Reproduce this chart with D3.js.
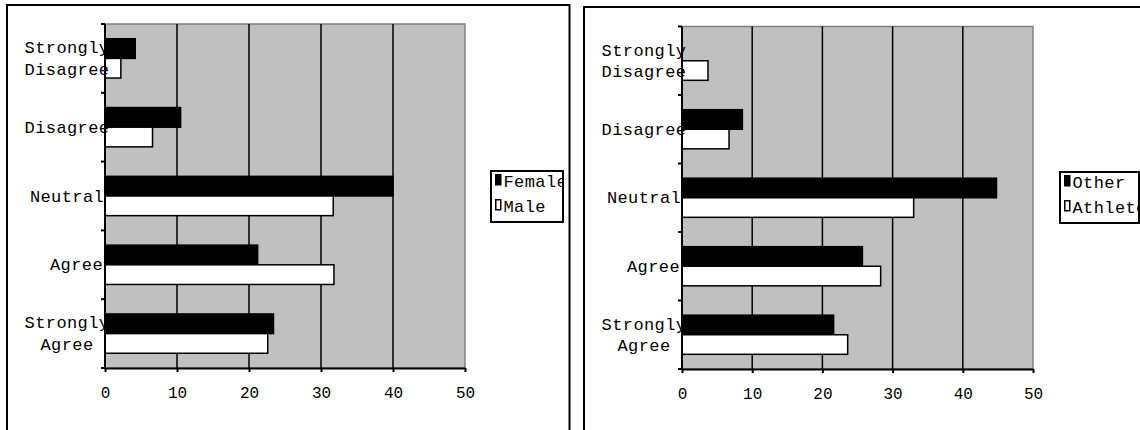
<!DOCTYPE html>
<html>
<head>
<meta charset="utf-8">
<script src="https://cdn.jsdelivr.net/npm/d3@7"></script>
<style>
  body { margin: 0; background: #fff; }
  svg { display: block; }
  text { font-family: "Liberation Mono", "DejaVu Sans Mono", monospace; fill: #000; }
</style>
</head>
<body>
<svg id="chart" width="1140" height="430"></svg>
<script>
// Response categories, top to bottom
const categories = ['Strongly Disagree', 'Disagree', 'Neutral', 'Agree', 'Strongly Agree'];
const categoryLines = [['Strongly', 'Disagree'], ['Disagree'], ['Neutral'], ['Agree'], ['Strongly', 'Agree']];

// Left chart: by gender (percent)
const genderSeries = ['Female', 'Male'];
const femaleValues = [4.2, 10.5, 40.0, 21.2, 23.4];
const maleValues = [2.2, 6.6, 31.7, 31.8, 22.6];

// Right chart: athletes vs others (percent)
const groupSeries = ['Other', 'Athlete'];
const otherValues = [0, 8.6, 44.8, 25.7, 21.6];
const athleteValues = [3.7, 6.7, 33.0, 28.3, 23.6];

const xTicks = [0, 10, 20, 30, 40, 50];
const seriesFill = ['#000', '#fff'];

const svg = d3.select('#chart');

function drawPanel(p, seriesNames, values, id) {
    // frame of the chart object
    svg.append('rect')
        .attr('x', p.frame[0]).attr('y', p.frame[1])
        .attr('width', p.frame[2]).attr('height', p.frame[3])
        .attr('fill', '#fff').attr('stroke', '#000').attr('stroke-width', 2);

    const x = d3.scaleLinear().domain([0, 50]).range([p.left, p.right]);
    const y = d3.scaleBand().domain(categories).range([p.top, p.bottom])
        .paddingInner(1.5 / 3.5).paddingOuter(0.75 / 3.5);
    const ys = d3.scaleBand().domain(seriesNames).range([0, y.bandwidth()]);

    const g = svg.append('g');

    // plot area
    g.append('rect')
        .attr('x', p.left).attr('y', p.top)
        .attr('width', p.right - p.left).attr('height', p.bottom - p.top)
        .attr('fill', '#c0c0c0').attr('stroke', '#808080').attr('stroke-width', 1.5);

    // gridlines
    g.append('g').selectAll('line')
        .data(xTicks.slice(1, -1))
        .join('line')
        .attr('x1', d => x(d)).attr('x2', d => x(d))
        .attr('y1', p.top).attr('y2', p.bottom)
        .attr('stroke', '#000').attr('stroke-width', 1.5);

    // bars
    const rows = categories.map((c, i) => ({ c, vals: seriesNames.map((s, j) => ({ s, j, v: values[j][i] })) }));
    g.append('g').selectAll('g')
        .data(rows)
        .join('g')
        .attr('transform', d => 'translate(0,' + y(d.c) + ')')
        .selectAll('rect')
        .data(d => d.vals.filter(e => e.v > 0))
        .join('rect')
        .attr('x', x(0))
        .attr('y', d => ys(d.s))
        .attr('width', d => x(d.v) - x(0))
        .attr('height', ys.bandwidth())
        .attr('fill', d => seriesFill[d.j])
        .attr('stroke', '#000').attr('stroke-width', 1.5);

    // x axis
    const xa = g.append('g')
        .attr('transform', 'translate(0,' + p.bottom + ')')
        .call(d3.axisBottom(x).tickValues(xTicks).tickSizeInner(4).tickSizeOuter(0).tickPadding(15));
    xa.select('.domain').attr('stroke', '#000').attr('stroke-width', 2);
    xa.selectAll('.tick line').attr('stroke', '#000').attr('stroke-width', 2);
    xa.selectAll('.tick text').attr('font-size', 16).attr('font-family', '"Liberation Mono", monospace');

    // y axis line and ticks on category boundaries
    g.append('line')
        .attr('x1', p.left).attr('x2', p.left)
        .attr('y1', p.top).attr('y2', p.bottom)
        .attr('stroke', '#000').attr('stroke-width', 2);
    g.append('g').selectAll('line')
        .data(d3.range(categories.length + 1))
        .join('line')
        .attr('x1', p.left - 4).attr('x2', p.left)
        .attr('y1', i => p.top + i * y.step()).attr('y2', i => p.top + i * y.step())
        .attr('stroke', '#000').attr('stroke-width', 2);

    // category labels, lines centred in a block hugging the axis
    const charW = 10.6, lineH = 21.5;
    const lab = svg.append('g').attr('font-size', 17).attr('letter-spacing', 0.4);
    categories.forEach((c, i) => {
        const lines = categoryLines[i];
        const w = d3.max(lines, l => l.length) * charW;
        const cx = Math.max(p.left - 38, p.left - 2 - w / 2);
        const cy = y(c) + y.bandwidth() / 2;
        const t = lab.append('text').attr('text-anchor', 'middle');
        lines.forEach((l, k) => {
            t.append('tspan')
                .attr('x', cx)
                .attr('y', cy + 5.5 - (lines.length - 1) * lineH / 2 + k * lineH)
                .text(l);
        });
    });

    // legend (names are clipped by the box, as in the original)
    const L = p.legend;
    svg.append('clipPath').attr('id', 'clip' + id)
        .append('rect').attr('x', L.x).attr('y', L.y).attr('width', L.w).attr('height', L.h);
    const lg = svg.append('g');
    lg.append('rect')
        .attr('x', L.x).attr('y', L.y).attr('width', L.w).attr('height', L.h)
        .attr('fill', '#fff').attr('stroke', '#000').attr('stroke-width', 2);
    const items = lg.append('g').attr('clip-path', 'url(#clip' + id + ')')
        .selectAll('g')
        .data(seriesNames)
        .join('g')
        .attr('transform', (d, j) => 'translate(' + (L.x + 4) + ',' + (L.y + 3 + j * 25) + ')');
    items.append('rect')
        .attr('x', 0.75).attr('y', 0.75).attr('width', 5).attr('height', 10)
        .attr('fill', (d, j) => seriesFill[j]).attr('stroke', '#000').attr('stroke-width', 1.5);
    items.append('text')
        .attr('x', 8.5).attr('y', 12.5)
        .attr('font-size', 17).attr('letter-spacing', 0.4)
        .text(d => d);
}

drawPanel({
    frame: [7, 5, 562.5, 440],
    left: 105, right: 465, top: 24, bottom: 368,
    legend: { x: 491, y: 171, w: 72, h: 51 }
}, genderSeries, [femaleValues, maleValues], 'L');

drawPanel({
    frame: [584, 7, 570, 440],
    left: 682, right: 1033, top: 26.5, bottom: 369,
    legend: { x: 1060, y: 172, w: 79, h: 51 }
}, groupSeries, [otherValues, athleteValues], 'R');
</script>
</body>
</html>
